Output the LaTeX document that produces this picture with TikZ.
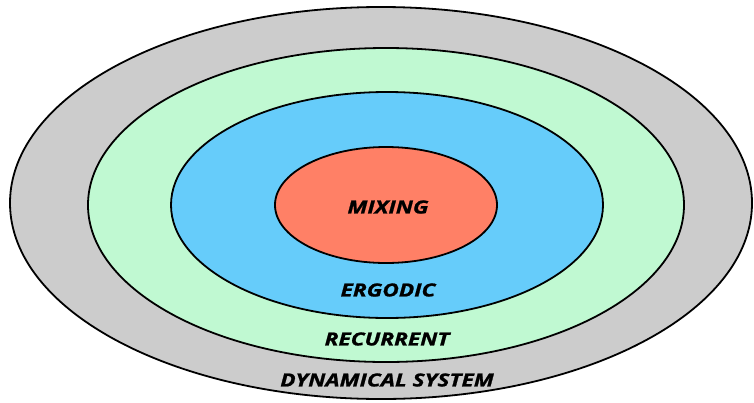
\documentclass[tikz,border=0pt]{standalone}
\usepackage{fontspec}
\setmainfont{Open Sans}[FakeBold=1.2,FakeStretch=1.26]
\definecolor{dsgray}{HTML}{CCCCCC}
\definecolor{recgreen}{HTML}{C0F9D2}
\definecolor{ergblue}{HTML}{66CCFA}
\definecolor{mixred}{HTML}{FF8066}
\begin{document}
\begin{tikzpicture}[x=1pt,y=-1pt,
  ring/.style={draw=black,line width=1.8pt},
  lbl/.style={font=\fontsize{18}{21}\selectfont\bfseries\itshape,inner sep=0pt}]
\useasboundingbox (0,0) rectangle (754,402);
\draw[ring,fill=dsgray] (381,203) ellipse [x radius=371,y radius=196];
\draw[ring,fill=recgreen] (386,205) ellipse [x radius=298,y radius=157];
\draw[ring,fill=ergblue] (387,205) ellipse [x radius=216,y radius=113];
\draw[ring,fill=mixred] (386,205) ellipse [x radius=111,y radius=58];
\node[lbl] (mix) at (388,207) {MIXING};
\node[lbl] (erg) at (388,290) {ERGODIC};
\node[lbl] (rec) at (387,339) {RECURRENT};
\node[lbl] (dyn) at (387,380) {DYNAMICAL SYSTEM};
\end{tikzpicture}
\end{document}
